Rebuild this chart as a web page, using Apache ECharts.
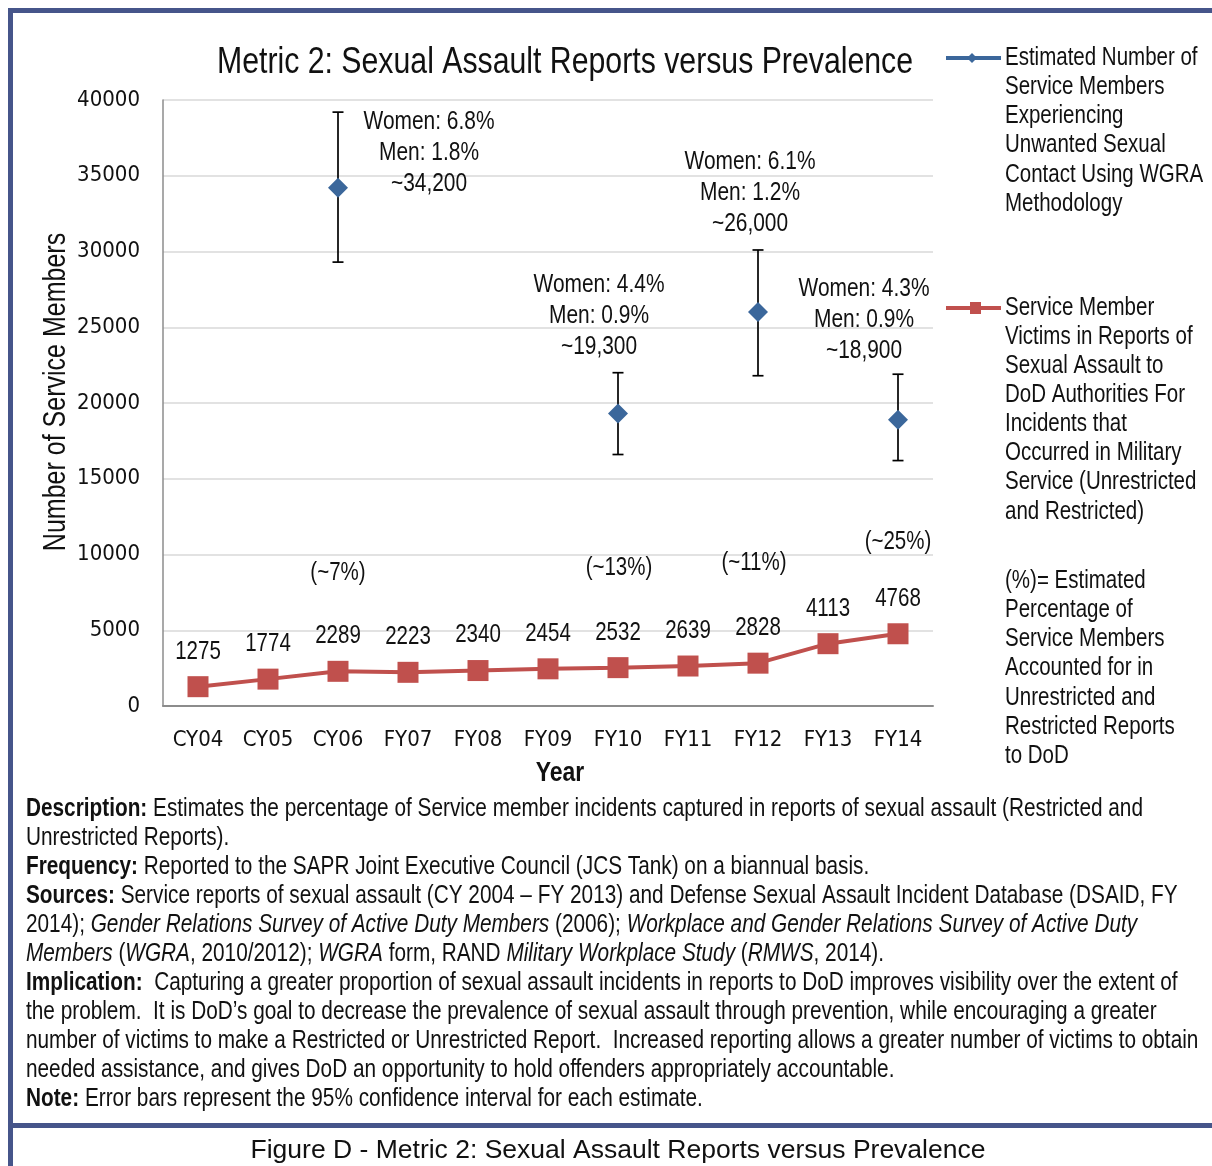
<!DOCTYPE html>
<html><head><meta charset="utf-8">
<script src="https://cdn.jsdelivr.net/npm/echarts@6/dist/echarts.min.js"></script>
<style>html,body{margin:0;padding:0;background:#fff}#c{width:1212px;height:1166px}</style>
</head><body><div id="c"></div>
<script>
const categories = ['CY04','CY05','CY06','FY07','FY08','FY09','FY10','FY11','FY12','FY13','FY14'];
const reports = [1275,1774,2289,2223,2340,2454,2532,2639,2828,4113,4768];
const estimated = [null,null,34200,null,null,null,19300,null,26000,null,18900];
const ciLow = [null,null,29300,null,null,null,16600,null,21800,null,16200];
const ciHigh = [null,null,39200,null,null,null,22000,null,30100,null,21900];
const womenPct = [null,null,'6.8%',null,null,null,'4.4%',null,'6.1%',null,'4.3%'];
const menPct = [null,null,'1.8%',null,null,null,'0.9%',null,'1.2%',null,'0.9%'];
const estText = [null,null,'~34,200',null,null,null,'~19,300',null,'~26,000',null,'~18,900'];
const capturedPct = [null,null,'(~7%)',null,null,null,'(~13%)',null,'(~11%)',null,'(~25%)'];
const yMin = 0, yMax = 40000, yStep = 5000;

const titleText = 'Metric 2: Sexual Assault Reports versus Prevalence';
const xName = 'Year';
const yName = 'Number of Service Members';
const legendEst = ['Estimated Number of','Service Members','Experiencing','Unwanted Sexual','Contact Using WGRA','Methodology'];
const legendRep = ['Service Member','Victims in Reports of','Sexual Assault to','DoD Authorities For','Incidents that','Occurred in Military','Service (Unrestricted','and Restricted)'];
const legendNote = ['(%)= Estimated','Percentage of','Service Members','Accounted for in','Unrestricted and','Restricted Reports','to DoD'];
const notes = [
  '{b|Description:} Estimates the percentage of Service member incidents captured in reports of sexual assault (Restricted and',
  'Unrestricted Reports).',
  '{b|Frequency:} Reported to the SAPR Joint Executive Council (JCS Tank) on a biannual basis.',
  '{b|Sources:} Service reports of sexual assault (CY 2004 \u2013 FY 2013) and Defense Sexual Assault Incident Database (DSAID, FY',
  '2014); {i|Gender Relations Survey of Active Duty Members} (2006); {i|Workplace and Gender Relations Survey of Active Duty}',
  '{i|Members} ({i|WGRA}, 2010/2012); {i|WGRA} form, RAND {i|Military Workplace Study} ({i|RMWS}, 2014).',
  '{b|Implication:}  Capturing a greater proportion of sexual assault incidents in reports to DoD improves visibility over the extent of',
  'the problem.  It is DoD\u2019s goal to decrease the prevalence of sexual assault through prevention, while encouraging a greater',
  'number of victims to make a Restricted or Unrestricted Report.  Increased reporting allows a greater number of victims to obtain',
  'needed assistance, and gives DoD an opportunity to hold offenders appropriately accountable.',
  '{b|Note:} Error bars represent the 95% confidence interval for each estimate.'
];
const captionText = 'Figure D - Metric 2: Sexual Assault Reports versus Prevalence';

// styling / layout
const SANS = '"Liberation Sans",Arial,sans-serif';
const COND = '"DejaVu Sans Condensed","Liberation Sans",sans-serif';
const NARROW = 0.82;           // horizontal squeeze to emulate a narrow face
const TXT = '#111';
const BLUE = '#3b679b', RED = '#c0504d', FRAME = '#46558a';
const estOffsets = {2:[91,-35], 6:[-19,-98], 8:[-8,-119], 10:[-34,-100]};
const pctOffsets = {2:[0,-98], 6:[1,-100], 8:[-4,-100], 10:[0,-92]};
const valueOffsetY = -35;

function ntext(x, y, text, size, opts){
  opts = opts || {};
  return {type:'text', x:x, y:y, scaleX:NARROW, rotation:opts.rotation||0,
    style:{text:text, x:0, y:0, align:opts.align||'left', verticalAlign:'middle',
      font:(opts.weight||'normal')+' '+size+'px '+SANS, fill:TXT, rich:opts.rich}};
}

const chart = echarts.init(document.getElementById('c'), null, {renderer:'canvas'});

const errData = [], estLabelData = [], pctData = [];
estimated.forEach((v,i)=>{
  if(v!=null){
    errData.push([i, ciLow[i], ciHigh[i]]);
    estLabelData.push([i, v]);
  }
  if(capturedPct[i]) pctData.push([i, reports[i]]);
});
const valData = reports.map((v,i)=>[i, v]);

const graphics = [];
graphics.push({type:'rect', shape:{x:8,y:8,width:1204,height:5}, style:{fill:FRAME}, silent:true});
graphics.push({type:'rect', shape:{x:8,y:8,width:5,height:1158}, style:{fill:FRAME}, silent:true});
graphics.push({type:'rect', shape:{x:8,y:1123,width:1204,height:5}, style:{fill:FRAME}, silent:true});
graphics.push({type:'line', shape:{x1:946,y1:58,x2:1001,y2:58}, style:{stroke:BLUE,lineWidth:4}});
graphics.push({type:'polygon', shape:{points:[[972,53],[977,58],[972,63],[967,58]]}, style:{fill:BLUE}});
legendEst.forEach((t,k)=> graphics.push(ntext(1005, 58+k*29.2, t, 25)));
graphics.push({type:'line', shape:{x1:946,y1:308,x2:1001,y2:308}, style:{stroke:RED,lineWidth:4}});
graphics.push({type:'rect', shape:{x:970,y:302,width:11,height:12}, style:{fill:RED}});
legendRep.forEach((t,k)=> graphics.push(ntext(1005, 308+k*29.1, t, 25)));
legendNote.forEach((t,k)=> graphics.push(ntext(1005, 581+k*29.2, t, 25)));
const NOTE_SIZE = 25.35;
const rich = {
  b:{fontFamily:SANS, fontSize:NOTE_SIZE, fontWeight:'bold', fill:TXT},
  i:{fontFamily:SANS, fontSize:NOTE_SIZE, fontStyle:'italic', fill:TXT}
};
notes.forEach((t,k)=> graphics.push(ntext(26, 809+k*29.0, t, NOTE_SIZE, {rich:rich})));
graphics.push({type:'text', style:{text:captionText, x:618, y:1151, align:'center', verticalAlign:'middle', font:'26.5px '+SANS, fill:TXT}});
graphics.push(ntext(565, 63, titleText, 36.9, {align:'center'}));
graphics.push(ntext(560, 773, xName, 28, {align:'center', weight:'bold'}));
graphics.push(ntext(57, 392, yName, 30.5, {align:'center', rotation:Math.PI/2}));

function labelSeries(name, data, build){
  return {type:'custom', name:name, data:data, z:8, silent:true,
    encode:{x:0, y:1},
    renderItem:function(params, api){
      const i = api.value(0);
      const p = api.coord([i, api.value(1)]);
      return build(i, p);
    }};
}

const option = {
  animation:false,
  backgroundColor:'#fff',
  graphic: graphics,
  grid:{left:163, right:279, top:100, bottom:460, containLabel:false},
  xAxis:{type:'category', data:categories, boundaryGap:true,
    axisLine:{lineStyle:{color:'#8c8c8c', width:2}}, axisTick:{show:false},
    axisLabel:{fontFamily:COND, fontSize:22, color:TXT, margin:23}},
  yAxis:{type:'value', min:yMin, max:yMax, interval:yStep,
    axisLine:{show:true, lineStyle:{color:'#8c8c8c', width:1.5}}, axisTick:{show:false},
    axisLabel:{fontFamily:COND, fontSize:22, color:TXT, margin:23, formatter:v=>String(v)},
    splitLine:{lineStyle:{color:'#d9d9d9', width:1.5}}},
  series:[
    {type:'custom', name:'ci', data:errData, z:3,
      encode:{x:0, y:[1,2]},
      renderItem:function(params, api){
        const x = api.value(0);
        const lo = api.coord([x, api.value(1)]);
        const hi = api.coord([x, api.value(2)]);
        const w = 5.5;
        return {type:'group', children:[
          {type:'line', shape:{x1:lo[0],y1:lo[1],x2:hi[0],y2:hi[1]}, style:{stroke:'#000',lineWidth:1.7}},
          {type:'line', shape:{x1:lo[0]-w,y1:lo[1],x2:lo[0]+w,y2:lo[1]}, style:{stroke:'#000',lineWidth:1.7}},
          {type:'line', shape:{x1:hi[0]-w,y1:hi[1],x2:hi[0]+w,y2:hi[1]}, style:{stroke:'#000',lineWidth:1.7}}
        ]};
      }},
    {type:'line', name:'Estimated', data:estimated, z:5, connectNulls:false,
      symbol:'diamond', symbolSize:20, itemStyle:{color:BLUE}, lineStyle:{color:BLUE, width:0}},
    {type:'line', name:'Reports', data:reports, z:4,
      symbol:'rect', symbolSize:21, itemStyle:{color:RED}, lineStyle:{color:RED, width:4}},
    labelSeries('reportLabels', valData, (i,p)=> ntext(p[0], p[1]+valueOffsetY, String(reports[i]), 25, {align:'center'})),
    labelSeries('pctLabels', pctData, (i,p)=> ntext(p[0]+pctOffsets[i][0], p[1]+pctOffsets[i][1], capturedPct[i], 25, {align:'center'})),
    labelSeries('estLabels', estLabelData, (i,p)=>{
      const o = estOffsets[i];
      const lines = ['Women: '+womenPct[i], 'Men: '+menPct[i], estText[i]];
      return {type:'group', children: lines.map((t,k)=> ntext(p[0]+o[0], p[1]+o[1]+(k-1)*31, t, 25.5, {align:'center'}))};
    })
  ]
};
chart.setOption(option);
</script>
</body></html>
